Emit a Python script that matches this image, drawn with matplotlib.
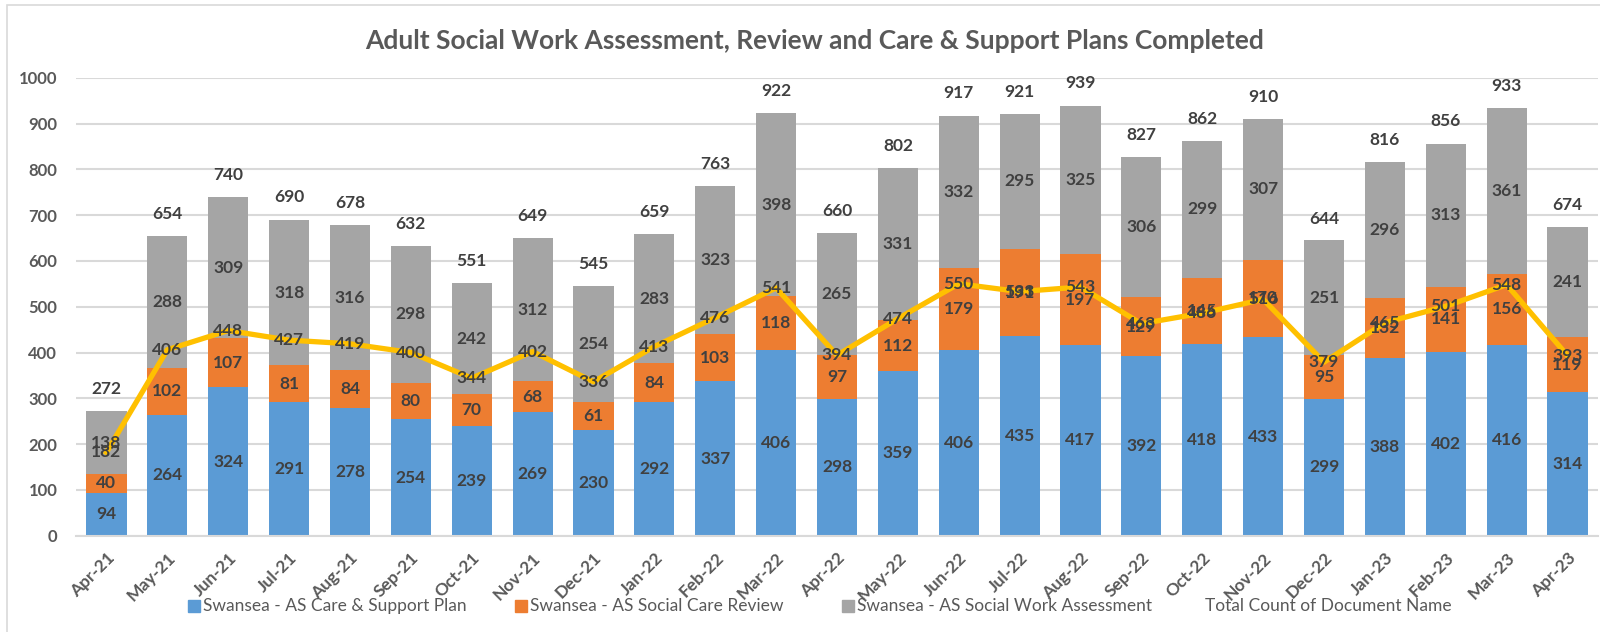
import matplotlib
matplotlib.use("Agg")
import matplotlib.pyplot as plt
import numpy as np
from matplotlib.patches import Rectangle

months = ["Apr-21", "May-21", "Jun-21", "Jul-21", "Aug-21", "Sep-21", "Oct-21", "Nov-21",
          "Dec-21", "Jan-22", "Feb-22", "Mar-22", "Apr-22", "May-22", "Jun-22", "Jul-22",
          "Aug-22", "Sep-22", "Oct-22", "Nov-22", "Dec-22", "Jan-23", "Feb-23", "Mar-23", "Apr-23"]
care_support = [94, 264, 324, 291, 278, 254, 239, 269, 230, 292, 337, 406, 298, 359, 406, 435,
                417, 392, 418, 433, 299, 388, 402, 416, 314]
care_review = [40, 102, 107, 81, 84, 80, 70, 68, 61, 84, 103, 118, 97, 112, 179, 191,
               197, 129, 145, 170, 95, 132, 141, 156, 119]
work_assessment = [138, 288, 309, 318, 316, 298, 242, 312, 254, 283, 323, 398, 265, 331, 332, 295,
                   325, 306, 299, 307, 251, 296, 313, 361, 241]
totals = [272, 654, 740, 690, 678, 632, 551, 649, 545, 659, 763, 922, 660, 802, 917, 921,
          939, 827, 862, 910, 644, 816, 856, 933, 674]
doc_count = [182, 406, 448, 427, 419, 400, 344, 402, 336, 413, 476, 541, 394, 474, 550, 533,
             543, 463, 486, 516, 379, 465, 501, 548, 393]

FONT = "Lato"
BLUE, ORANGE, GREY, YELLOW = "#5B9BD5", "#ED7D31", "#A5A5A5", "#FFC000"
LBL = "#404040"
TXT = "#595959"

fig = plt.figure(figsize=(16, 6.32), dpi=100)
ax = fig.add_axes([76/1600, 96.3/632, 1522/1600, 458/632])

x = np.arange(len(months))
w = 0.66
b1 = np.array(care_support)
b2 = np.array(care_review)
b3 = np.array(work_assessment)
ax.bar(x, b1, w, color=BLUE, zorder=2)
ax.bar(x, b2, w, bottom=b1, color=ORANGE, zorder=2)
ax.bar(x, b3, w, bottom=b1 + b2, color=GREY, zorder=2)
ax.plot(x, doc_count, color=YELLOW, lw=3.8, zorder=3, solid_joinstyle="round")

lab = dict(ha="center", va="center", fontsize=12.5, fontweight="bold", color=LBL, family=FONT, zorder=5)
for i in x:
    ax.text(i, b1[i] / 2, str(b1[i]), **lab)
    ax.text(i, b1[i] + b2[i] / 2, str(b2[i]), **lab)
    ax.text(i, b1[i] + b2[i] + b3[i] / 2, str(b3[i]), **lab)
    ax.text(i, doc_count[i], str(doc_count[i]), **lab)
    ax.annotate(str(totals[i]), (i, totals[i]), xytext=(0, 16), textcoords="offset points",
                ha="center", va="center", fontsize=12.5, fontweight="bold", color=LBL, family=FONT)

ax.set_xlim(-0.5, len(months) - 0.5)
ax.set_ylim(0, 1000)
ax.set_yticks(np.arange(0, 1001, 100))
ax.yaxis.grid(True, color="#D9D9D9", lw=1.5, zorder=0)
ax.set_axisbelow(True)
for s in ["top", "right", "left"]:
    ax.spines[s].set_visible(False)
ax.spines["bottom"].set_color("#D9D9D9")
ax.spines["bottom"].set_linewidth(1.5)
ax.tick_params(axis="both", length=0)
ax.tick_params(axis="y", pad=13.5)
ax.tick_params(axis="x", pad=10)
ax.set_xticks(x)
ax.set_xticklabels(months, rotation=45, ha="right", rotation_mode="anchor")
for t in ax.get_xticklabels():
    t.set_fontsize(12.5)
for t in ax.get_yticklabels():
    t.set_fontsize(12)
for t in ax.get_xticklabels() + ax.get_yticklabels():
    t.set_fontfamily(FONT)
    t.set_fontweight("bold")
    t.set_color(TXT)

fig.text(815/1600, 1 - 41/632, "Adult Social Work Assessment, Review and Care & Support Plans Completed",
         ha="center", va="center", fontsize=19, fontweight="bold", color=TXT, family=FONT)

# legend
ly = 1 - 606/632
entries = [(188, BLUE, "Swansea - AS Care & Support Plan"),
           (515, ORANGE, "Swansea - AS Social Care Review"),
           (842, GREY, "Swansea - AS Social Work Assessment")]
for px, col, name in entries:
    fig.patches.append(Rectangle((px/1600, ly - 6/632), 12/1600, 12/632, color=col,
                                 transform=fig.transFigure, figure=fig))
    fig.text((px + 15)/1600, ly, name, ha="left", va="center", fontsize=12.5, color=TXT, family=FONT)
fig.text(1205/1600, ly, "Total Count of Document Name", ha="left", va="center", fontsize=12.5,
         color=TXT, family=FONT)

# chart border
fig.patches.append(Rectangle((7/1600, -0.1), 1.2, 1 - 5/632 + 0.1, fill=False, ec="#D9D9D9", lw=1.2,
                             transform=fig.transFigure, figure=fig))

fig.savefig("out.png", dpi=100)
